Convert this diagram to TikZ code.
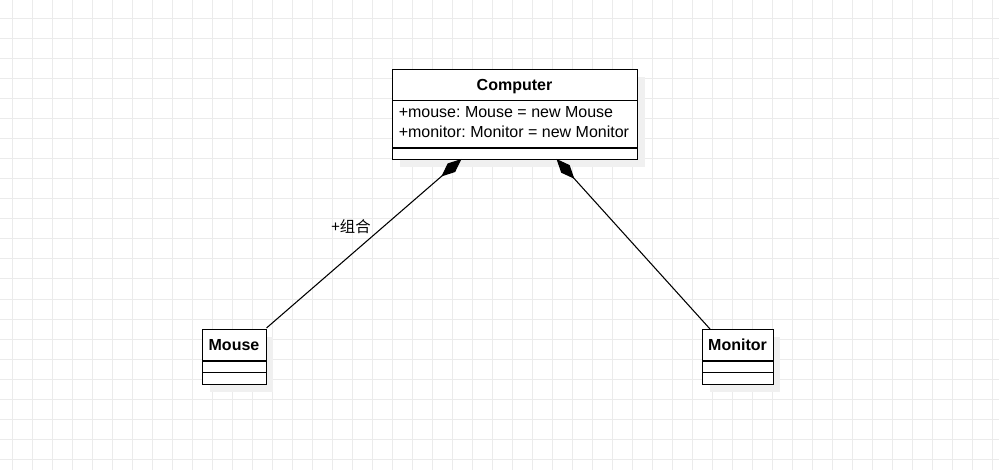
\documentclass[tikz,border=0pt]{standalone}
\usepackage{fontspec}
\setmainfont{Liberation Sans}
\newfontfamily\cjk{Noto Sans CJK SC}
\usetikzlibrary{arrows.meta}
\frenchspacing
\definecolor{gridc}{RGB}{235,235,235}
\definecolor{shadowc}{RGB}{240,240,240}
\tikzset{
  umlbox/.style={draw=black, line width=0.8pt, fill=white, rectangle, inner sep=0pt, anchor=north west},
  boxshadow/.style={fill=shadowc, draw=none},
  sepline/.style={draw=black, line width=0.8pt},
  ttl/.style={font=\fontsize{12pt}{14pt}\selectfont\bfseries, inner sep=0pt},
  attr/.style={font=\fontsize{12pt}{14pt}\selectfont, inner sep=0pt, anchor=west},
  compo/.style={draw=black, line width=0.8pt, {Diamond[length=20pt, width=8.5pt, fill=black]}-},
}
\begin{document}
\begin{tikzpicture}[x=0.75pt, y=-0.75pt]
\useasboundingbox (0,0) rectangle (999,470);
\fill[white] (0,0) rectangle (999,470);
% grid
\foreach \gx in {12,32,...,992} { \draw[gridc, line width=0.75pt] (\gx,0) -- (\gx,470); }
\foreach \gy in {19,39,...,459} { \draw[gridc, line width=0.75pt] (0,\gy) -- (999,\gy); }
% shadows
\fill[boxshadow] (400,77) rectangle (645,167);
\fill[boxshadow] (210,337) rectangle (273,392);
\fill[boxshadow] (710,337) rectangle (780,392);
% Computer
\node[umlbox, minimum width=183.75pt, minimum height=67.5pt] (computer) at (392,69) {};
\draw[sepline] (392,100.5) -- (637,100.5);
\draw[sepline] (392,148) -- (637,148);
\node[ttl] (ctitle) at (514.5,86.5) {Computer};
\node[attr] (cattr1) at (398.5,112.5) {+mouse: Mouse = new Mouse};
\node[attr] (cattr2) at (398.5,131.5) {+monitor: Monitor = new Monitor};
% Mouse
\node[umlbox, minimum width=48pt, minimum height=41.25pt] (mouse) at (202,329) {};
\draw[sepline] (202,361) -- (266,361);
\draw[sepline] (202,372.5) -- (266,372.5);
\node[ttl] (mtitle) at (234,345) {Mouse};
% Monitor
\node[umlbox, minimum width=53.25pt, minimum height=41.25pt] (monitor) at (702,329) {};
\draw[sepline] (702,361) -- (773,361);
\draw[sepline] (702,372.5) -- (773,372.5);
\node[ttl] (ntitle) at (737.5,345) {Monitor};
% connectors
\coordinate (cl) at (461.5,159);
\coordinate (cr) at (556.5,159);
\coordinate (ml) at (266.5,328);
\coordinate (nr) at (710,329);
\draw[compo] (cl) -- (ml);
\draw[compo] (cr) -- (nr);
\node[font=\cjk\fontsize{11.5pt}{13pt}\selectfont, inner sep=0pt] (lbl) at (351,227) {+组合};
\end{tikzpicture}
\end{document}
